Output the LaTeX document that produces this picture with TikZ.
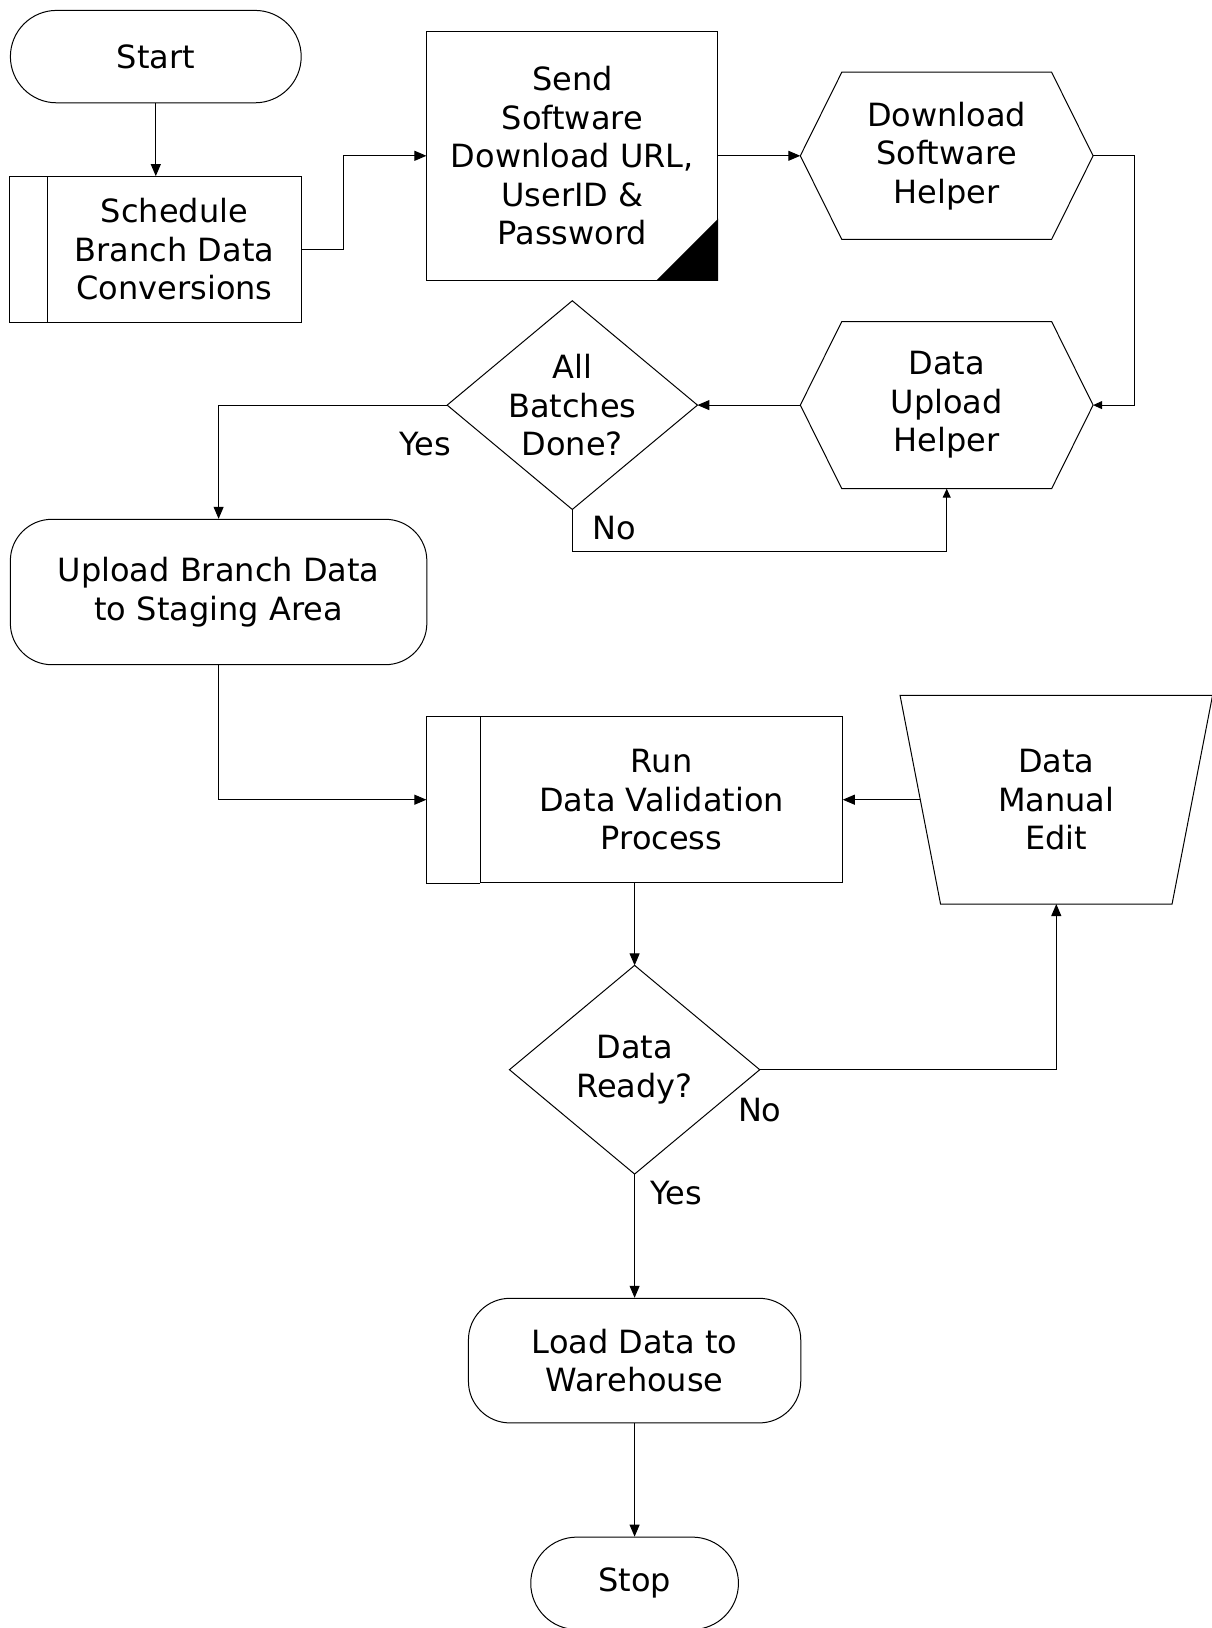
\documentclass[tikz,border=0pt]{standalone}
\usepackage{fontspec}
\setmainfont{DejaVu Sans}
\usetikzlibrary{shapes.misc,arrows.meta}

\begin{document}
\begin{tikzpicture}[x=1pt, y=-1pt, line width=1pt,
  font=\fontsize{32}{38.5}\selectfont,
  box/.style={rectangle, align=center, inner sep=0pt},
  term/.style={rounded rectangle, draw, align=center, inner sep=0pt,
    minimum width=290.8pt, minimum height=92.4pt},
  arr/.style={-{Triangle[length=12pt,width=10pt]}},
  smallarr/.style={-{Triangle[length=9pt,width=8pt]}}]
\useasboundingbox (0,0) rectangle (1212,1628);

\node [term] (start) at (155.8,56.6) {Start};

\node [box, draw, minimum width=253.4pt, minimum height=145.4pt] (sched) at (174.5,249.3) {Schedule\\Branch Data\\Conversions};
\draw (sched.north west) -- ++(-37.4,0) |- (sched.south west);

\node [box, draw, minimum width=290.8pt, minimum height=249.2pt] (send) at (572.3,155.8) {Send\\Software\\Download URL,\\UserID \&\\Password};
\fill (send.south east) -- ++(0,-62.3) -- ++(-62.3,62.3) -- cycle;

\node [box, minimum width=291.8pt, minimum height=166.2pt] (dlhelp) at (946.7,155.8) {Download\\Software\\Helper};
\node [box, minimum width=291.8pt, minimum height=166.2pt] (ulhelp) at (946.7,405.1) {Data\\Upload\\Helper};
\foreach \n in {dlhelp,ulhelp}
  \draw ([xshift=41.5pt]\n.north west) -- ([xshift=-41.5pt]\n.north east) -- (\n.east)
    -- ([xshift=-41.5pt]\n.south east) -- ([xshift=41.5pt]\n.south west) -- (\n.west) -- cycle;

\node [box, minimum width=249.3pt, minimum height=207.7pt] (batches) at (572.3,405.1) {All\\Batches\\Done?};
\node [box, minimum width=249.3pt, minimum height=207.7pt] (ready) at (634.6,1069.7) {Data\\Ready?};
\foreach \n in {batches,ready}
  \draw (\n.north) -- (\n.east) -- (\n.south) -- (\n.west) -- cycle;

\node [box, draw, rounded corners=41.5pt, minimum width=416.5pt, minimum height=145.4pt] (upload) at (218.6,592) {Upload Branch Data\\to Staging Area};

\node [box, draw, minimum width=361.4pt, minimum height=166.2pt] (run) at (661.6,799.7) {Run\\Data Validation\\Process};
\draw (run.north west) -- ++(-54,0) |- (run.south west);
\coordinate (runleft) at ([xshift=-54pt]run.west);

\node [box, minimum width=271pt, minimum height=207.7pt] (manual) at (1056.3,799.7) {Data\\Manual\\Edit};
\draw ([xshift=-20.25pt]manual.north west) -- ([xshift=20.25pt]manual.north east)
  -- ([xshift=-20.25pt]manual.south east) -- ([xshift=20.25pt]manual.south west) -- cycle;

\node [box, draw, rounded corners=41.5pt, minimum width=332.3pt, minimum height=124.6pt] (load) at (634.6,1360.6) {Load Data to\\Warehouse};

\node [term, minimum width=207.7pt] (stop) at (634.6,1583.3) {Stop};

\draw [arr] (start.south) -- (start.south |- sched.north);
\draw [arr] (sched.east) -- ++(41.5,0) |- (send.west);
\draw [arr] (send.east) -- (dlhelp.west);
\draw [smallarr] (dlhelp.east) -- ++(41.5,0) |- (ulhelp.east);
\draw [arr] (ulhelp.west) -- (batches.east);
\draw [arr] (batches.west) -| (upload.north);
\draw [smallarr] (batches.south) -- ++(0,41.6) -| (ulhelp.south);
\draw [arr] (upload.south) |- (runleft);
\draw [arr] (manual.west) -- (run.east);
\draw [arr] (run.south -| ready.north) -- (ready.north);
\draw [arr] (ready.east) -| (manual.south);
\draw [arr] (ready.south) -- (load.north);
\draw [arr] (load.south) -- (stop.north);

\node (yes1) at ([xshift=-22pt,yshift=-39.4pt]batches.west) {Yes};
\node (no1) at ([xshift=42pt,yshift=-18.5pt]batches.south) {No};
\node (no2) at ([yshift=-40.6pt]ready.east) {No};
\node (yes2) at ([xshift=41.5pt,yshift=-18.7pt]ready.south) {Yes};
\end{tikzpicture}
\end{document}
